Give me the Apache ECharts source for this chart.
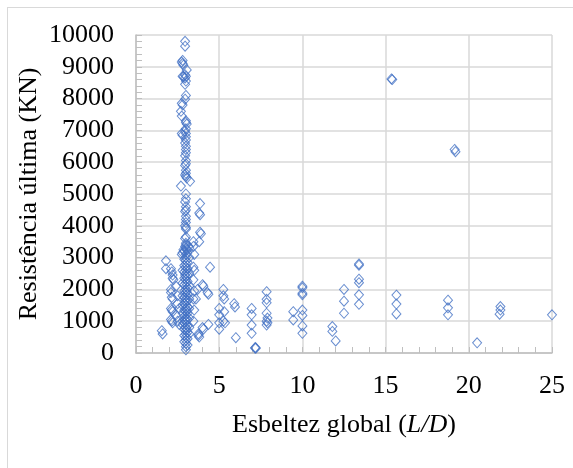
<!DOCTYPE html>
<html>
<head>
<meta charset="utf-8">
<script src="https://cdn.jsdelivr.net/npm/echarts@6/dist/echarts.min.js"></script>
<style>
  body { margin: 0; background: #fff; }
  #main { width: 573px; height: 468px; }
  #frame {
    position: absolute; left: 7px; top: 7px; width: 566px; height: 461px;
    border-left: 1px solid #d9d9d9; border-top: 1px solid #d9d9d9;
    pointer-events: none;
  }
</style>
</head>
<body>
<div id="main"></div>
<div id="frame"></div>
<script>
// [esbeltez L/D, resistência kN]
const colMain = [
  [2.95, 9800], [2.95, 9650], [3.05, 8900], [2.95, 8750], [3.0, 8700], [2.95, 8650], [3.0, 8550], [2.95, 8450],
  [3.0, 8100], [2.95, 7980], [3.0, 7300], [3.0, 7250], [3.05, 7200], [3.0, 7050], [2.95, 6980], [3.0, 6900],
  [3.0, 6800], [3.0, 6700], [2.95, 6600], [3.0, 6500], [3.0, 6400], [3.0, 6300], [2.95, 6200], [3.0, 6050],
  [3.0, 5950], [2.95, 5900], [3.0, 5750], [3.0, 5650], [2.95, 5600], [3.0, 5550], [3.05, 5500], [3.0, 5000],
  [3.0, 4850], [2.95, 4750], [3.0, 4600], [3.0, 4500], [2.95, 4450], [3.0, 4300], [3.0, 4200], [3.0, 4100],
  [2.95, 4000], [3.0, 3950], [3.0, 3900], [3.0, 3650], [2.95, 3600], [3.0, 3450], [3.0, 3400], [2.95, 3350],
  [3.0, 3300], [3.05, 3250], [2.9, 3200], [3.1, 3150], [3.0, 3100]
];
const colSide = [
  [2.8, 9200], [2.75, 9150], [2.8, 9100], [2.85, 9050], [2.8, 8700], [2.85, 8680], [2.75, 7850], [2.8, 7800],
  [2.7, 7600], [2.75, 7450], [2.75, 6900], [2.8, 6850], [2.7, 5250], [2.8, 3150], [2.75, 3100],
  [3.25, 5400], [3.2, 3300], [3.2, 3000], [2.85, 3250], [3.15, 3350]
];
const colDense = [
  [3.0, 3000], [3.0, 2900], [3.0, 2800], [3.0, 2700], [3.0, 2600], [3.0, 2500], [3.0, 2400], [3.0, 2300],
  [3.0, 2200], [3.0, 2100], [3.0, 2000], [3.0, 1900], [3.0, 1800], [3.0, 1700], [3.0, 1600], [3.0, 1500],
  [3.0, 1400], [3.0, 1300], [3.0, 1200], [3.0, 1100], [3.0, 1000], [3.0, 900], [3.0, 800], [3.0, 700],
  [3.0, 600], [3.0, 500], [3.0, 400], [3.0, 300], [3.0, 200], [3.0, 100],
  [2.9, 2950], [2.9, 2750], [2.9, 2550], [2.9, 2350], [2.9, 2150], [2.9, 1950], [2.9, 1750], [2.9, 1550],
  [2.9, 1350], [2.9, 1150], [2.9, 950], [2.9, 750], [2.9, 550], [2.9, 350],
  [3.1, 2850], [3.1, 2650], [3.1, 2450], [3.1, 2250], [3.1, 2050], [3.1, 1850], [3.1, 1650], [3.1, 1450],
  [3.1, 1250], [3.1, 1050], [3.1, 850], [3.1, 650], [3.1, 450], [3.1, 250],
  [2.8, 2600], [2.8, 2200], [2.8, 1800], [2.8, 1500], [2.8, 1250], [2.8, 1000], [2.8, 900],
  [3.2, 2500], [3.2, 2100], [3.2, 1700], [3.2, 1400], [3.2, 1100], [3.2, 800], [3.2, 600],
  [2.95, 1650], [3.05, 1350], [2.95, 1050], [3.05, 750], [3.05, 1950], [2.95, 2450]
];
const leftGroup = [
  [1.55, 700], [1.6, 600], [1.8, 2900], [1.8, 2650], [2.1, 2650], [2.15, 2550], [2.2, 2450], [2.2, 2350],
  [2.25, 2300], [2.1, 2000], [2.1, 1900], [2.15, 1750], [2.2, 1700], [2.1, 1400], [2.15, 1350], [2.2, 1300],
  [2.1, 1050], [2.15, 1000], [2.2, 950], [2.5, 1800], [2.5, 1550], [2.4, 1200], [2.5, 1000], [2.6, 900],
  [2.4, 2100], [2.6, 1400]
];
const nearGroup = [
  [3.45, 3500], [3.45, 3350], [3.5, 3100], [3.45, 2700], [3.5, 2600], [3.45, 2300], [3.5, 1950], [3.45, 1700],
  [3.5, 1350], [3.45, 1000], [3.85, 4700], [3.85, 4350], [3.8, 4400], [3.85, 3800], [3.9, 3750], [3.8, 3500],
  [3.7, 2000], [4.0, 2150], [4.05, 2100], [4.3, 1900], [4.35, 1850], [4.45, 2700], [3.75, 600], [3.75, 550],
  [3.8, 500], [4.0, 800], [4.05, 750], [4.35, 900], [3.6, 1700]
];
const midGroup = [
  [5.0, 1400], [5.0, 1200], [5.0, 950], [5.0, 750], [5.25, 2000], [5.25, 1800], [5.3, 1700], [5.3, 1300],
  [5.25, 1000], [5.35, 950], [5.9, 1550], [5.95, 1450], [6.0, 480],
  [6.95, 1400], [6.95, 1200], [6.95, 880], [6.95, 620], [7.15, 160], [7.2, 150], [7.18, 170],
  [7.85, 1930], [7.85, 1690], [7.85, 1580], [7.85, 1250], [7.9, 1100], [7.85, 1000], [7.9, 950], [7.85, 880],
  [9.45, 1300], [9.45, 1040],
  [10.0, 2100], [10.0, 2050], [10.0, 1880], [10.0, 1830], [10.0, 1350], [10.0, 1180], [10.0, 850], [10.0, 620],
  [11.8, 830], [11.8, 680], [12.0, 380], [12.5, 2000], [12.5, 1630], [12.5, 1250],
  [13.4, 2800], [13.4, 2760], [13.4, 2320], [13.4, 2210], [13.4, 1830], [13.4, 1530]
];
const farGroup = [
  [15.35, 8620], [15.4, 8600], [15.65, 1820], [15.65, 1540], [15.65, 1230],
  [18.75, 1660], [18.75, 1420], [18.75, 1200], [19.15, 6400], [19.2, 6330], [20.5, 320],
  [21.9, 1460], [21.9, 1350], [21.85, 1220], [25.0, 1200]
];

const allPoints = [].concat(colMain, colSide, colDense, leftGroup, nearGroup, midGroup, farGroup);

const font = '"Liberation Serif", "Times New Roman", serif';
const chart = echarts.init(document.getElementById('main'));

const axisCommon = {
  axisLine: { show: true, lineStyle: { color: '#bfbfbf', width: 1.5 } },
  axisTick: { show: true, inside: true, length: 6, lineStyle: { color: '#bfbfbf' } },
  minorTick: { show: true, splitNumber: 5, length: 6, lineStyle: { color: '#bfbfbf' } },
  splitLine: { show: true, lineStyle: { color: '#d9d9d9', width: 1.5 } },
  nameLocation: 'middle',
  nameMoveOverlap: false,
  nameTextStyle: { color: '#000', fontFamily: font, fontSize: 26 }
};

chart.setOption({
  animation: false,
  grid: { left: 136, right: 21, top: 35, bottom: 115 },
  xAxis: Object.assign({}, axisCommon, {
    type: 'value', min: 0, max: 25, interval: 5,
    name: 'Esbeltez global ({i|L/D})',
    nameGap: 59,
    nameTextStyle: {
      color: '#000', fontFamily: font, fontSize: 26,
      rich: { i: { fontStyle: 'italic', fontFamily: font, fontSize: 26, color: '#000' } }
    },
    axisLabel: { color: '#000', fontFamily: font, fontSize: 26, margin: 20 }
  }),
  yAxis: Object.assign({}, axisCommon, {
    type: 'value', min: 0, max: 10000, interval: 1000,
    name: 'Resistência última (KN)',
    nameGap: 94,
    axisLabel: { color: '#000', fontFamily: font, fontSize: 26, margin: 22, formatter: v => String(v) }
  }),
  series: [{
    type: 'scatter',
    symbol: 'diamond',
    symbolSize: [9, 10],
    data: allPoints,
    itemStyle: { color: 'rgba(255,255,255,0)', borderColor: '#4472C4', borderWidth: 1 }
  }]
});
</script>
</body>
</html>
